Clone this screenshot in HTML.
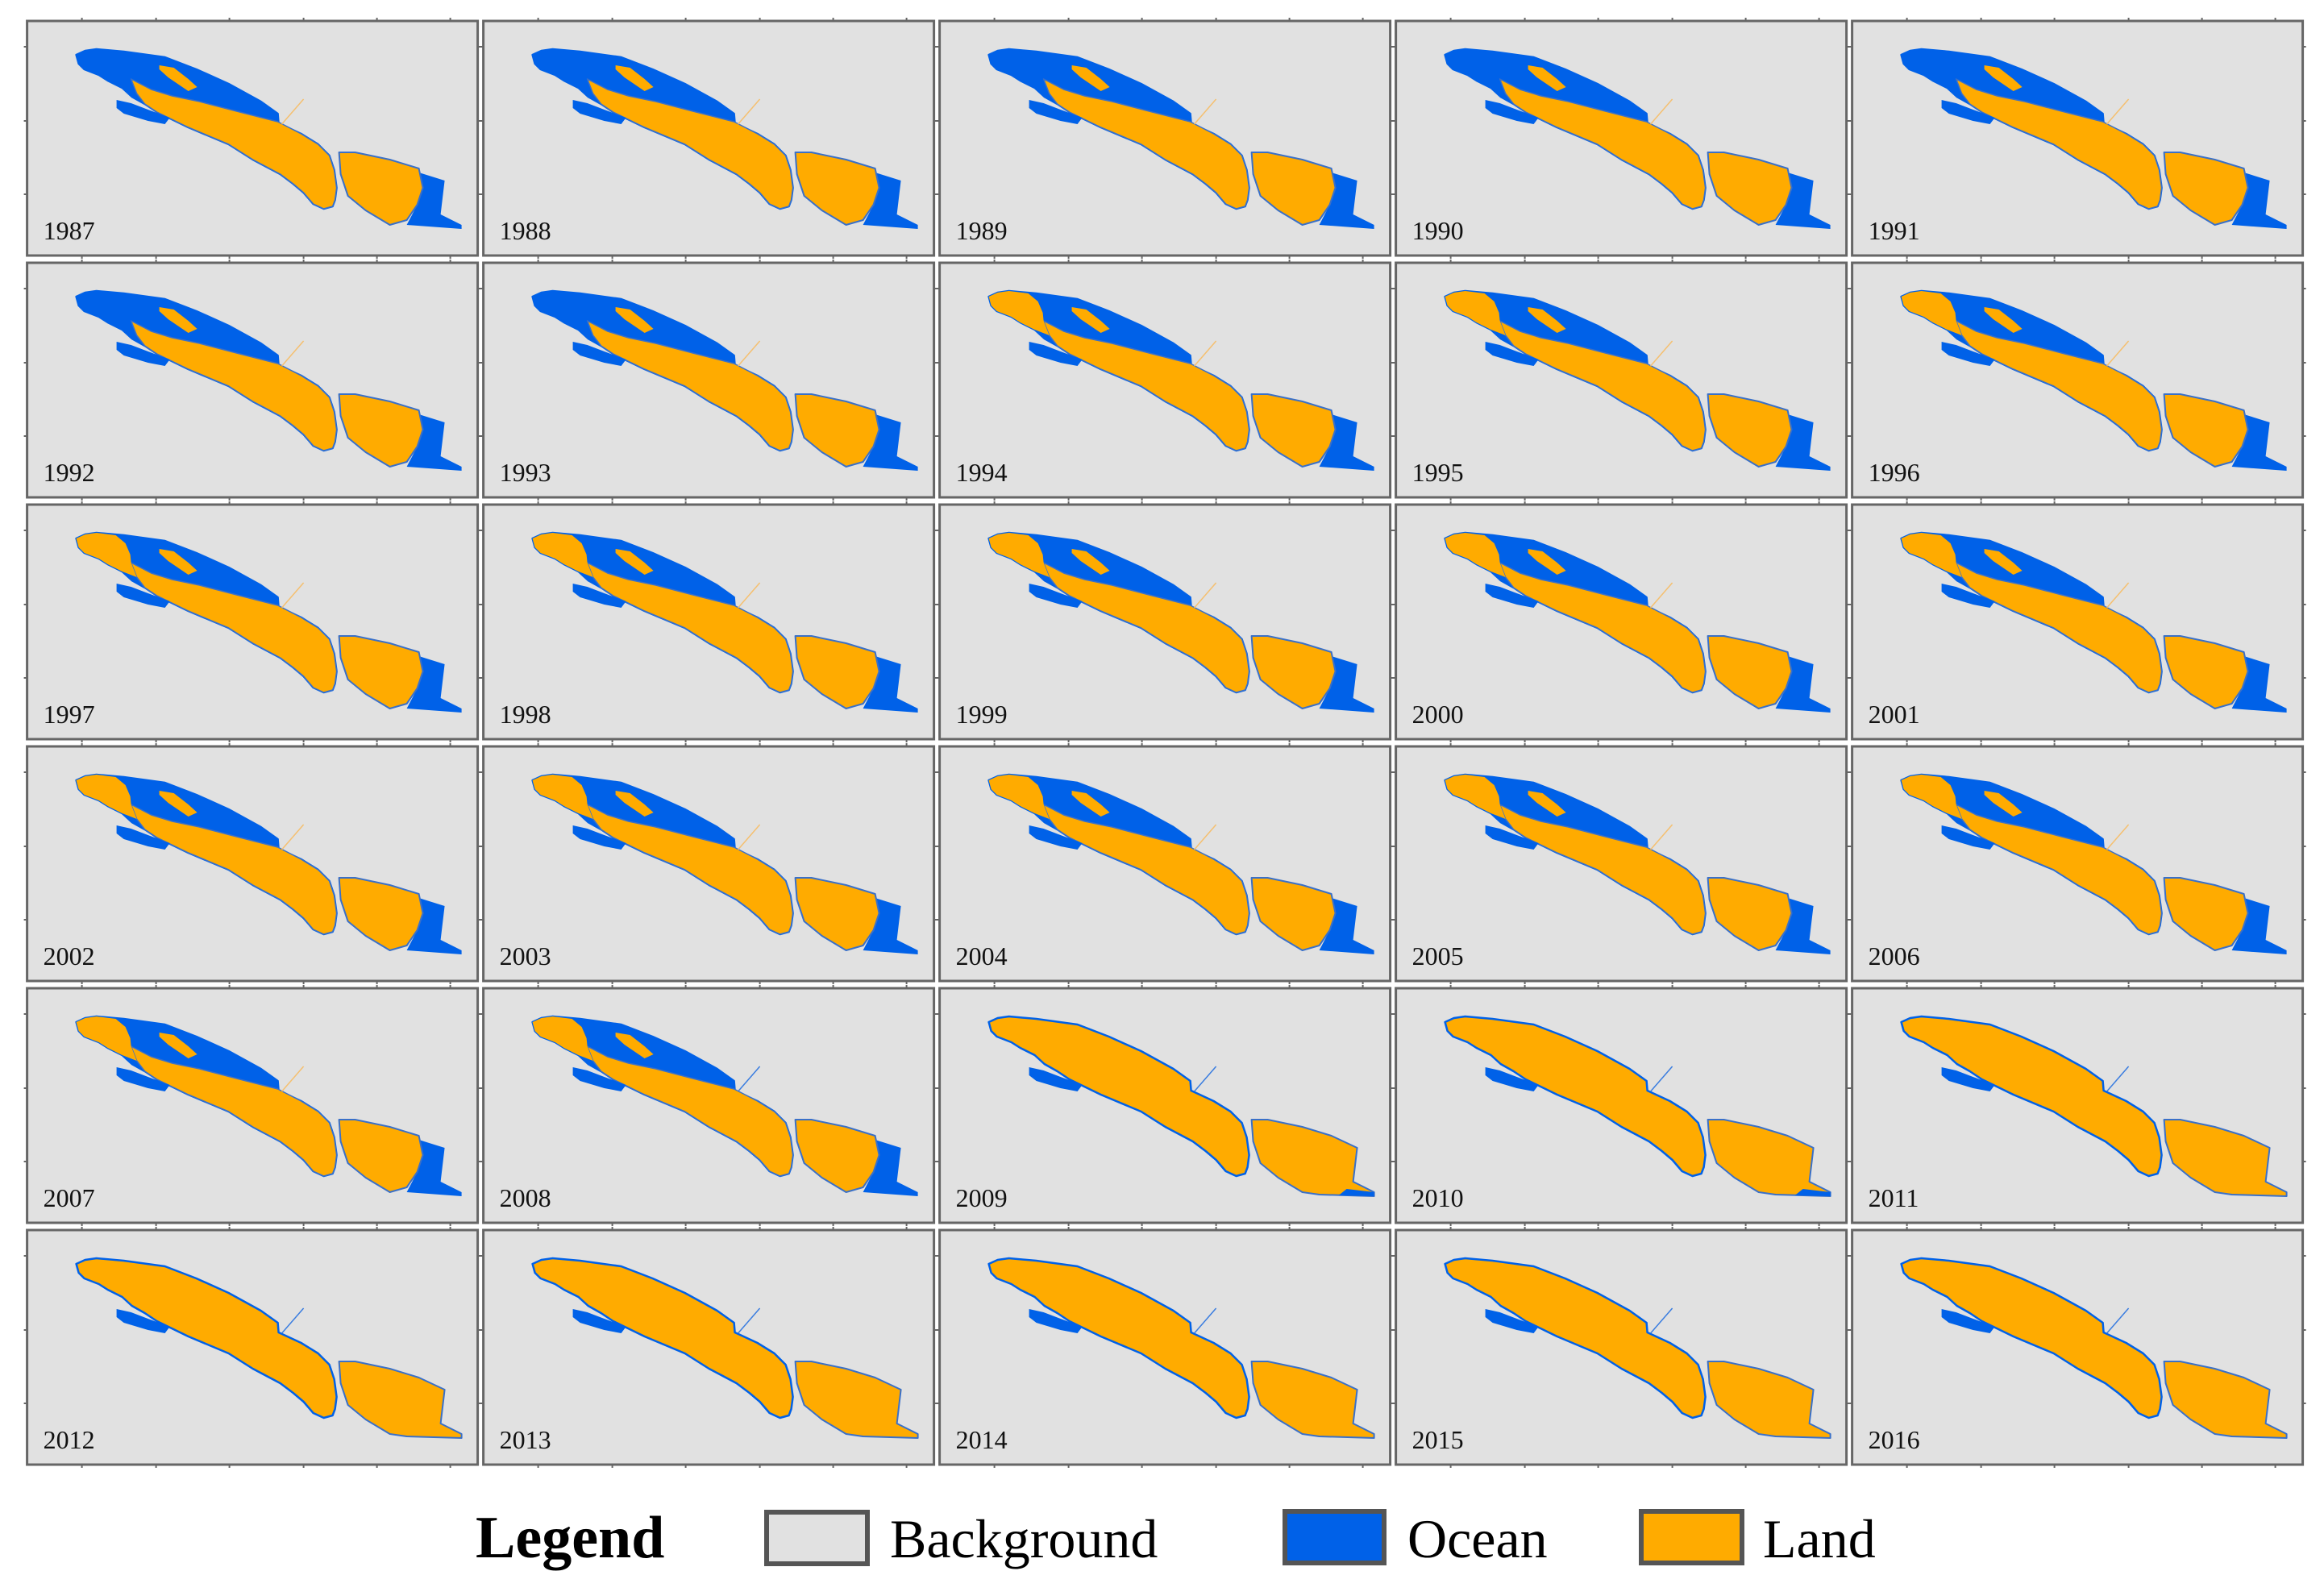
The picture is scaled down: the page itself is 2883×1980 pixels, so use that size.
<!DOCTYPE html>
<html><head><meta charset="utf-8"><style>
html,body{margin:0;padding:0;background:#fff;}
svg{display:block;}
</style></head><body>
<svg id="fig" width="2883" height="1980" viewBox="0 0 2883 1980" xmlns="http://www.w3.org/2000/svg">
<g id="panels"></g>
<g font-family="Liberation Serif, serif">
<text x="590" y="1932" font-size="74" font-weight="bold">Legend</text>
<rect x="951" y="1876" width="125" height="64" fill="#e1e1e1" stroke="#555" stroke-width="6"/>
<text x="1104" y="1932" font-size="68">Background</text>
<rect x="1594" y="1875" width="123" height="64" fill="#0061e8" stroke="#555" stroke-width="6"/>
<text x="1746" y="1932" font-size="68">Ocean</text>
<rect x="2036" y="1875" width="125" height="64" fill="#ffab00" stroke="#555" stroke-width="6"/>
<text x="2187" y="1932" font-size="68">Land</text>
</g>
</svg>
<script>
const years=[1987,1988,1989,1990,1991,1992,1993,1994,1995,1996,1997,1998,1999,2000,2001,2002,2003,2004,2005,2006,2007,2008,2009,2010,2011,2012,2013,2014,2015,2016];
// 0 = NW tip flooded, 1 = NW tip land, 2 = north lagoon reclaimed
const phase=[0,0,0,0,0,0,0,1,1,1,1,1,1,1,1,1,1,1,1,1,1,1,2,2,2,2,2,2,2,2];
const NS='http://www.w3.org/2000/svg';
const BLUE='#0061e8',ORANGE='#ffab00',BG='#e1e1e1';
const outer='61,42 72,37 86,35 120,38 171,45 210,60 250,78 290,100 311,115 312,127 340,140 361,153 375,167 381,185 384,207 382,222 379,230 368,233 355,227 343,213 330,202 314,190 280,172 250,153 200,132 161,113 146,103 130,94 118,83 100,74 89,67 71,60 64,53';
const spit='129,72 154,85 180,93 214,100 260,112 311,125 340,140 361,153 375,167 381,185 384,207 382,222 379,230 368,233 355,227 343,213 330,202 314,190 280,172 250,153 200,132 161,113 146,103 136,90';
const lagoonIsle='164,55 182,58 200,72 211,82 200,87 175,70 164,60';
const tip='61,42 72,37 86,35 110,38 122,48 128,62 129,72 136,90 118,83 100,74 89,67 71,60 64,53';
const smallIsle='111,98 129,102 150,110 177,120 171,128 150,124 120,115 111,108';
const eastIsle='387,163 407,163 450,172 486,183 491,207 484,228 471,247 450,253 420,235 398,217 389,190';
const eastExt='486,188 518,198 513,240 525,246 539,253 539,258 471,253 484,228 491,207';
const eastFull='387,163 407,163 450,172 486,183 518,198 513,240 525,246 539,253 539,258 471,256 450,253 420,235 398,217 389,190';
const eastTip='505,249 539,253 539,258 495,257';
const panelsG=document.getElementById('panels');
function el(tag,attrs,parent){const e=document.createElementNS(NS,tag);for(const k in attrs)e.setAttribute(k,attrs[k]);parent.appendChild(e);return e;}
const W=559,H=291;
years.forEach((yr,i)=>{
  const c=i%5,r=Math.floor(i/5);
  const g=el('g',{transform:`translate(${33.6+c*566},${26+r*300})`},panelsG);
  
  
  const bg=el('rect',{x:0,y:0,width:W,height:H,fill:BG,stroke:'#666','stroke-width':3},g);
  
  
  [68,160,251,343,434,525].forEach(x=>{el('line',{x1:x,y1:0,x2:x,y2:-4,stroke:'#666','stroke-width':2},g);el('line',{x1:x,y1:H,x2:x,y2:H+4,stroke:'#666','stroke-width':2},g);});
  [32,124,215].forEach(y=>{el('line',{x1:0,y1:y,x2:-4,y2:y,stroke:'#666','stroke-width':2},g);el('line',{x1:W,y1:y,x2:W+4,y2:y,stroke:'#666','stroke-width':2},g);});
  const p=phase[i];
  const o=el('polygon',{points:outer,fill:p<2?BLUE:ORANGE,stroke:BLUE,'stroke-width':2.5,'stroke-linejoin':'round'},g);
  
  
  if(p<2){
    const s=el('polygon',{points:spit,fill:ORANGE,stroke:'#3a70c8','stroke-width':1.5,'stroke-linejoin':'round'},g);
    
    
    const li=el('polygon',{points:lagoonIsle,fill:ORANGE},g);
    
    
    if(p===1){const t=el('polygon',{points:tip,fill:ORANGE},g);
      
      }
  }
  const si=el('polygon',{points:smallIsle,fill:BLUE,'stroke-linejoin':'round'},g);
  
  
  if(p<2){
    const ex=el('polygon',{points:eastExt,fill:BLUE},g);
    
    
    const ei=el('polygon',{points:eastIsle,fill:ORANGE,stroke:'#3a70c8','stroke-width':2,'stroke-linejoin':'round'},g);
    
    
  } else {
    const ei=el('polygon',{points:eastFull,fill:ORANGE,stroke:'#3a70c8','stroke-width':2,'stroke-linejoin':'round'},g);
    
    
    if(yr<2011){const et=el('polygon',{points:eastTip,fill:BLUE},g);
      
      }
  }
  const bl=el('line',{x1:316,y1:128,x2:343,y2:97,stroke:yr>=2008?'#3a7de0':'#f5c070','stroke-width':1.5},g);
  
  
  const t=el('text',{x:20,y:271,'font-size':32,'font-family':'Liberation Serif, serif',fill:'#111'},g);
  t.textContent=yr;
  
  
});
</script>
</body></html>
